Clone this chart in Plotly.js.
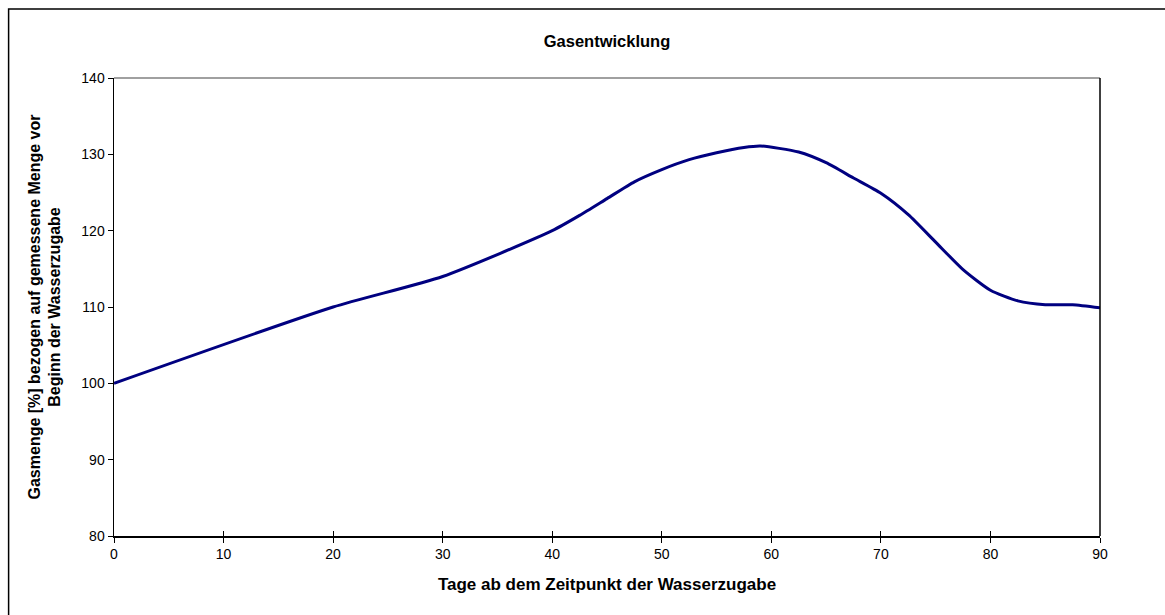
<!DOCTYPE html>
<html>
<head>
<meta charset="utf-8">
<script src="https://cdn.plot.ly/plotly-3.0.1.min.js"></script>
<style>
html,body{margin:0;padding:0;background:#fff;}
#chart{width:1165px;height:615px;}
</style>
</head>
<body>
<div id="chart"></div>
<script>
// Data
const days = [0, 20, 30, 40, 42.5, 45, 47.5, 50, 52.5, 55, 57.5, 59, 62.5, 65, 67.5, 70, 72.5, 75, 77.5, 80, 82.5, 85, 87.5, 90];
const gasmenge = [100, 110, 114, 120, 122, 124.2, 126.4, 128, 129.3, 130.2, 130.9, 131.1, 130.3, 128.9, 126.9, 124.9, 122.1, 118.5, 114.9, 112.2, 110.8, 110.3, 110.3, 109.9];
const xTicks = [0, 10, 20, 30, 40, 50, 60, 70, 80, 90];
const yTicks = [80, 90, 100, 110, 120, 130, 140];

const chartTitle = 'Gasentwicklung';
const xTitle = 'Tage ab dem Zeitpunkt der Wasserzugabe';
const yTitle = 'Gasmenge [%] bezogen auf gemessene Menge vor<br>Beginn der Wasserzugabe';

const W = 1165, H = 615;
const m = {l: 113.5, r: 64.5, t: 78, b: 78.5};
const pw = W - m.l - m.r, ph = H - m.t - m.b;
const px = v => (v - m.l) / pw;
const py = v => 1 - (v - m.t) / ph;

const font = 'Arial, "Liberation Sans", sans-serif';

const trace = {
  x: days, y: gasmenge, type: 'scatter', mode: 'lines',
  line: {color: '#000080', width: 3, shape: 'spline', smoothing: 0.6},
  hoverinfo: 'skip', showlegend: false
};
// invisible trace to carry the inner half of the crossing x ticks
const ghost = {x: [0, 90], y: [80, 80], xaxis: 'x2', type: 'scatter', mode: 'none', showlegend: false, hoverinfo: 'skip'};

const layout = {
  width: W, height: H,
  margin: m,
  paper_bgcolor: '#ffffff', plot_bgcolor: '#ffffff',
  font: {family: font, color: '#000', size: 14},
  title: {text: '<b>' + chartTitle + '</b>', x: 0.5, xref: 'paper', y: 1 - 41 / H, yanchor: 'middle',
          font: {family: font, size: 16.5, color: '#000'}},
  xaxis: {
    range: [0, 90], tickvals: xTicks, ticktext: xTicks.map(String),
    ticks: 'outside', ticklen: 5, tickwidth: 1, tickcolor: '#000',
    showline: true, linecolor: '#000', linewidth: 1.5,
    showgrid: false, zeroline: false,
    tickfont: {family: font, size: 14, color: '#000'},
    title: {text: '<b>' + xTitle + '</b>', standoff: 17, font: {family: font, size: 17, color: '#000'}},
    fixedrange: true
  },
  xaxis2: {
    overlaying: 'x', matches: 'x', range: [0, 90], tickvals: xTicks,
    ticks: 'inside', ticklen: 5, tickwidth: 1, tickcolor: '#000',
    showticklabels: false, showgrid: false, zeroline: false, showline: false, side: 'bottom'
  },
  yaxis: {
    range: [80, 140], tickvals: yTicks, ticktext: yTicks.map(String),
    ticks: 'outside', ticklen: 5, tickwidth: 1, tickcolor: '#000',
    showline: true, linecolor: '#000', linewidth: 1.5,
    showgrid: false, zeroline: false,
    tickfont: {family: font, size: 14, color: '#000'},
    title: {text: '<b>' + yTitle + '</b>', standoff: 16, font: {family: font, size: 16, color: '#000'}},
    fixedrange: true
  },
  shapes: [
    {type: 'line', xref: 'paper', yref: 'paper', x0: 0, x1: 1, y0: 1, y1: 1, line: {color: '#808080', width: 1.5}},
    {type: 'line', xref: 'paper', yref: 'paper', x0: 1, x1: 1, y0: 0, y1: 1, line: {color: '#000', width: 1.5}},
    {type: 'rect', xref: 'paper', yref: 'paper', x0: px(8), x1: px(1175), y0: py(9), y1: py(625), line: {color: '#000', width: 1.5}, fillcolor: 'rgba(0,0,0,0)', layer: 'below'}
  ]
};

Plotly.newPlot('chart', [trace, ghost], layout, {displayModeBar: false, staticPlot: true});
</script>
</body>
</html>
